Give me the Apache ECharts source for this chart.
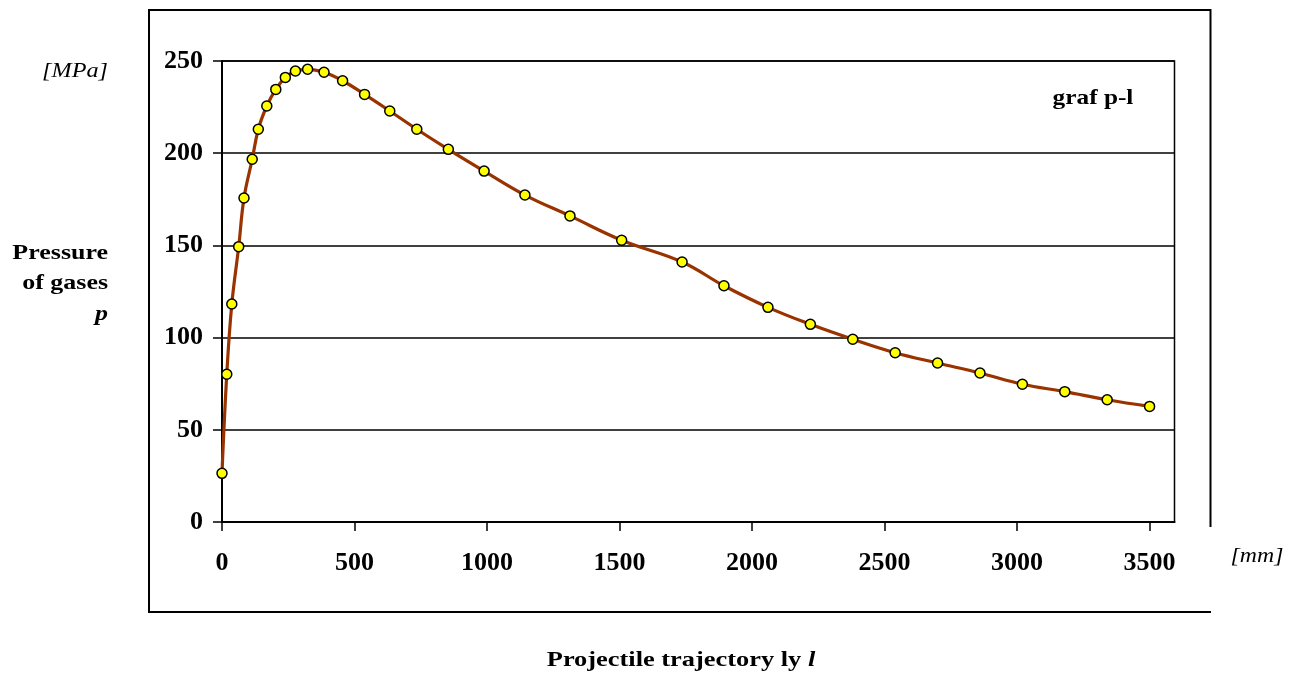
<!DOCTYPE html>
<html>
<head>
<meta charset="utf-8">
<title>graf p-l</title>
<script src="https://cdn.jsdelivr.net/npm/echarts@6/dist/echarts.min.js"></script>
<style>
  html, body { margin: 0; padding: 0; background: #fff; }
  #chart { width: 1299px; height: 675px; }
</style>
</head>
<body>
<div id="chart"></div>
<script>
// projectile trajectory l [mm]
var trajectory = [0, 18, 37, 63, 83, 114, 137, 169, 203, 239, 277, 323, 385, 455, 538, 633, 735, 854, 989, 1143,
  1313, 1508, 1736, 1894, 2060, 2220, 2380, 2540, 2700, 2860, 3020, 3180, 3340, 3500];
// gas pressure p [MPa]
var pressure = [26.4, 80.1, 118.2, 149.3, 175.7, 196.7, 213, 225.6, 234.6, 241.1, 244.6, 245.5, 243.9, 239.3, 231.9, 222.9, 213, 202.1, 190.3, 177.3,
  166, 152.8, 141, 128.1, 116.4, 107.2, 99.1, 91.8, 86.2, 80.8, 74.7, 70.7, 66.3, 62.7];
var xTicks = [0, 500, 1000, 1500, 2000, 2500, 3000, 3500];
var yTicks = [0, 50, 100, 150, 200, 250];

var serif = '"Liberation Serif", "Times New Roman", serif';

var points = trajectory.map(function (l, i) { return [l, pressure[i]]; });

var myChart = echarts.init(document.getElementById('chart'));

var option = {
  backgroundColor: '#fff',
  animation: false,
  grid: {
    left: 222,
    top: 61,
    width: 952.5,
    height: 461,
    show: true,
    borderColor: '#000',
    borderWidth: 1.5,
    outerBoundsMode: 'none'
  },
  xAxis: {
    type: 'value',
    min: 0,
    max: 3594,
    axisLine: { lineStyle: { color: '#000', width: 2 } },
    axisTick: { show: true, length: 9, customValues: xTicks, lineStyle: { color: '#000', width: 1.5 } },
    axisLabel: {
      customValues: xTicks,
      formatter: function (v) { return String(v); },
      margin: 28,
      color: '#000',
      fontFamily: serif,
      fontWeight: 'bold',
      fontSize: 26
    },
    splitLine: { show: false }
  },
  yAxis: {
    type: 'value',
    min: 0,
    max: 250,
    interval: 50,
    axisLine: { show: true, lineStyle: { color: '#000', width: 2 } },
    axisTick: { show: true, length: 9, customValues: yTicks, lineStyle: { color: '#000', width: 1.5 } },
    axisLabel: {
      customValues: yTicks,
      formatter: function (v) { return String(v); },
      margin: 19,
      color: '#000',
      fontFamily: serif,
      fontWeight: 'bold',
      fontSize: 26
    },
    splitLine: { show: true, lineStyle: { color: '#000', width: 1.5 } }
  },
  series: [{
    name: 'graf p-l',
    type: 'line',
    data: points,
    smooth: 0.4,
    symbol: 'circle',
    symbolSize: 10,
    lineStyle: { color: '#993300', width: 3.2 },
    itemStyle: { color: '#ffff00', borderColor: '#000', borderWidth: 1.5 },
    z: 5
  }],
  graphic: [
    // outer chart frame (right side stops short, as in the source)
    {
      type: 'polyline',
      shape: { points: [[1210.5, 527], [1210.5, 10], [149, 10], [149, 612], [1211, 612]] },
      style: { stroke: '#000', lineWidth: 2, fill: null },
      silent: true
    },
    {
      type: 'text', x: 108, y: 71, scaleX: 1.1,
      style: { text: '[MPa]', fontFamily: serif, fontStyle: 'italic', fontSize: 22, fill: '#000', align: 'right', verticalAlign: 'middle' }
    },
    {
      type: 'text', x: 108, y: 253, scaleX: 1.18,
      style: { text: 'Pressure', fontFamily: serif, fontWeight: 'bold', fontSize: 22, fill: '#000', align: 'right', verticalAlign: 'middle' }
    },
    {
      type: 'text', x: 108, y: 283, scaleX: 1.18,
      style: { text: 'of gases', fontFamily: serif, fontWeight: 'bold', fontSize: 22, fill: '#000', align: 'right', verticalAlign: 'middle' }
    },
    {
      type: 'text', x: 108, y: 314, scaleX: 1.18,
      style: { text: 'p', fontFamily: serif, fontWeight: 'bold', fontStyle: 'italic', fontSize: 22, fill: '#000', align: 'right', verticalAlign: 'middle' }
    },
    {
      type: 'text', x: 1093, y: 98, scaleX: 1.15,
      style: { text: 'graf p-l', fontFamily: serif, fontWeight: 'bold', fontSize: 22, fill: '#000', align: 'center', verticalAlign: 'middle' }
    },
    {
      type: 'text', x: 1257, y: 556, scaleX: 1.08,
      style: { text: '[mm]', fontFamily: serif, fontStyle: 'italic', fontSize: 22, fill: '#000', align: 'center', verticalAlign: 'middle' }
    },
    {
      type: 'text', x: 681, y: 660, scaleX: 1.2,
      style: {
        text: '{b|Projectile trajectory ly }{i|l}',
        fontFamily: serif, fontSize: 22, fill: '#000', align: 'center', verticalAlign: 'middle',
        rich: {
          b: { fontFamily: serif, fontWeight: 'bold', fontSize: 22, fill: '#000' },
          i: { fontFamily: serif, fontWeight: 'bold', fontStyle: 'italic', fontSize: 22, fill: '#000' }
        }
      }
    }
  ]
};

myChart.setOption(option);
</script>
</body>
</html>
